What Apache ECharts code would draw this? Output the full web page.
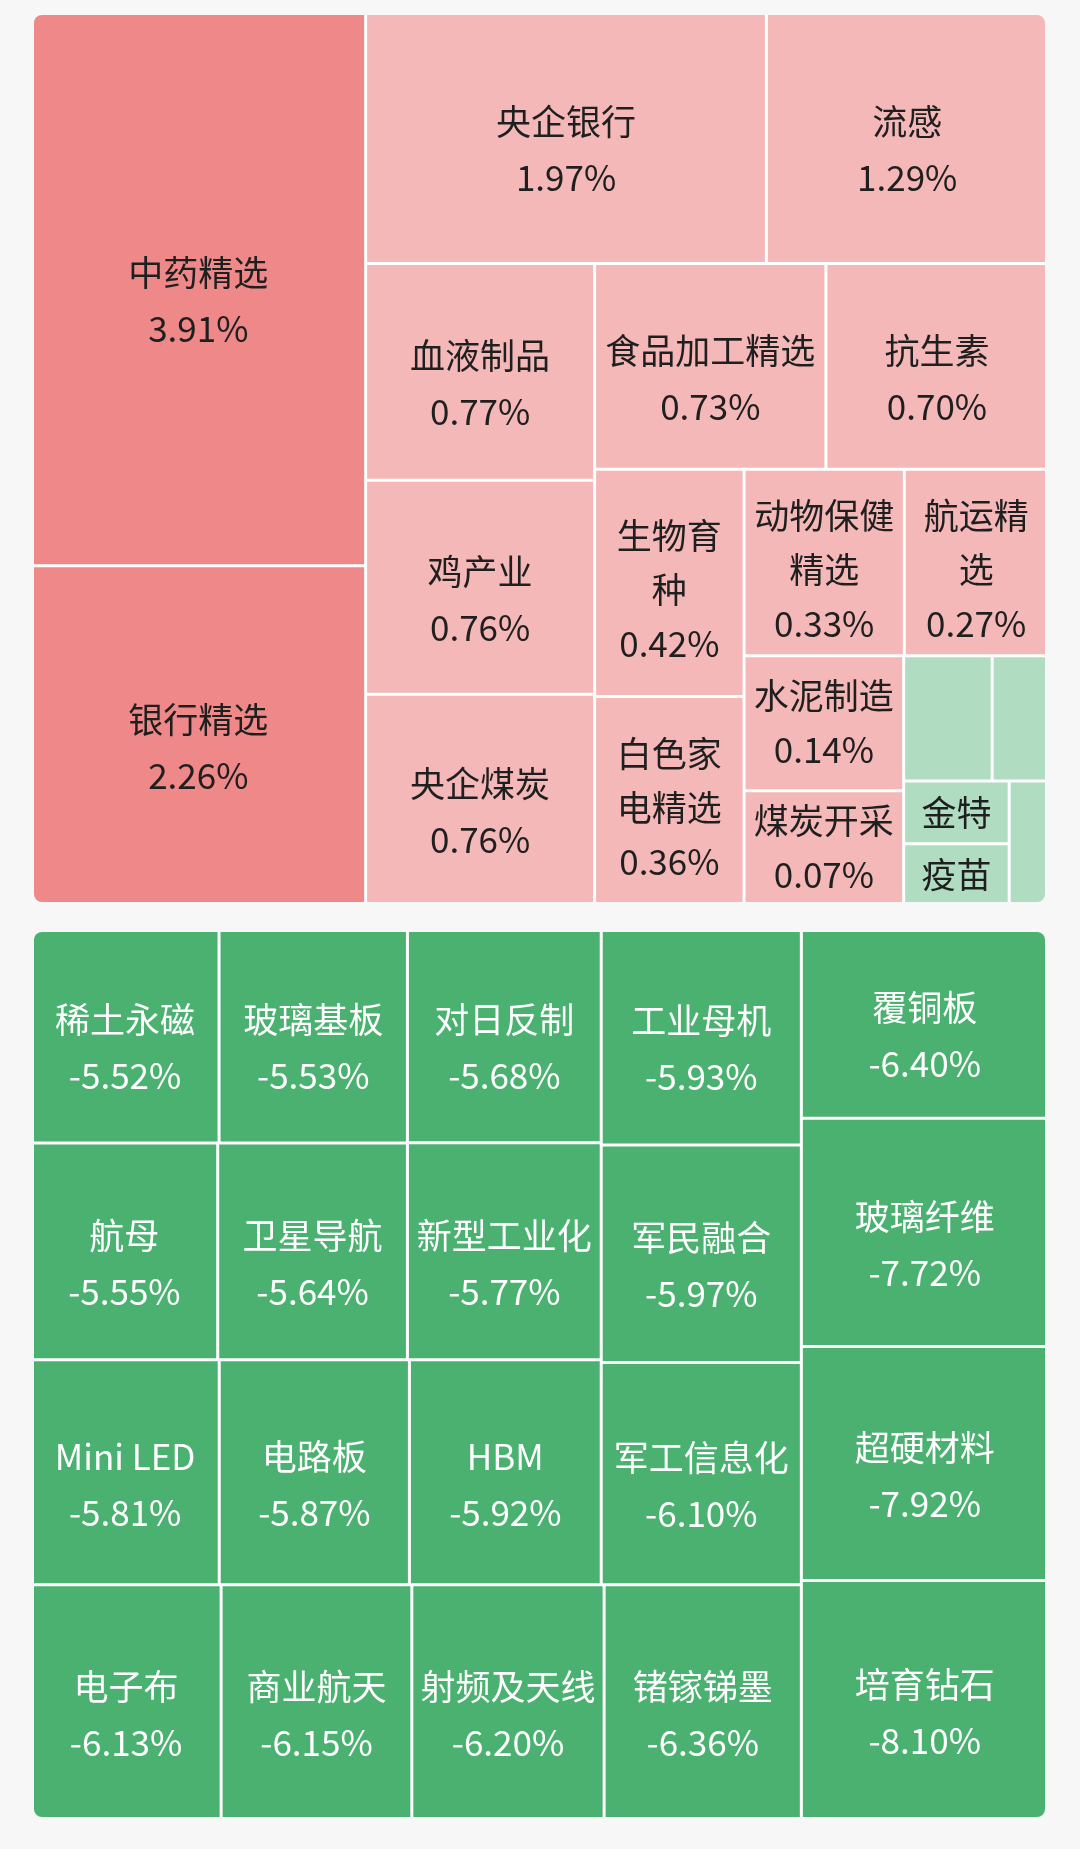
<!DOCTYPE html>
<html>
<head>
<meta charset="utf-8">
<script src="https://cdn.jsdelivr.net/npm/echarts@6/dist/echarts.min.js"></script>
<style>
  html, body { margin: 0; padding: 0; background: #f7f7f7; }
  body { width: 1080px; height: 1849px; position: relative; overflow: hidden; }
  .box { position: absolute; left: 34px; width: 1011px; border-radius: 8px; overflow: hidden; }
  #up { top: 15px; height: 887px; }
  /* 跌幅图按面积从右下角排起，整块转 180 度，文字再转回来 */
  #down { top: 932px; height: 885px; transform: rotate(180deg); }
</style>
</head>
<body>
<div id="up" class="box"></div>
<div id="down" class="box"></div>
<script>
// 涨幅板块（面积从大到小）
var upNames = ['中药精选', '银行精选', '央企银行', '流感', '血液制品', '鸡产业', '央企煤炭', '食品加工精选', '抗生素',
  '生物育种', '白色家电精选', '动物保健精选', '航运精选', '水泥制造', '煤炭开采', '', '', '金特', '疫苗', ''];
var upChange = [3.91, 2.26, 1.97, 1.29, 0.77, 0.76, 0.76, 0.73, 0.70,
  0.42, 0.36, 0.33, 0.27, 0.14, 0.07, -0.09, -0.18, -0.19, -0.20, -0.23];
var upSize = [204, 125, 111, 78, 54.6, 54.0, 53.1, 52.4, 50.3,
  37.4, 34.3, 32.9, 29.5, 23.7, 20.1, 12.2, 7.7, 7.3, 7.1, 5.3];

// 跌幅板块（面积从大到小）
var downNames = ['培育钻石', '超硬材料', '玻璃纤维', '覆铜板', '锗镓锑墨', '射频及天线', '商业航天', '电子布', '军工信息化', '军民融合',
  '工业母机', 'HBM', '电路板', 'Mini LED', '新型工业化', '对日反制', '卫星导航', '航母', '玻璃基板', '稀土永磁'];
var downChange = [-8.10, -7.92, -7.72, -6.40, -6.36, -6.20, -6.15, -6.13, -6.10, -5.97,
  -5.93, -5.92, -5.87, -5.81, -5.77, -5.68, -5.64, -5.55, -5.53, -5.52];
var downSize = [8.10, 7.92, 7.72, 6.40, 6.36, 6.20, 6.15, 6.13, 6.10, 5.97,
  5.93, 5.92, 5.87, 5.81, 5.77, 5.68, 5.64, 5.55, 5.53, 5.52];

function cellColor(v) {
  if (v >= 2) return '#ee8889';
  if (v > 0) return '#f5b8b9';
  if (v > -2) return '#b0dcc1';
  return '#4ab170';
}

// 大格子里文字略靠下、行距略大，小格子居中
function labelStyle(share) {
  if (share >= 0.04) return { offset: [0, 12], lineHeight: 56 };
  if (share >= 0.028) return { offset: [0, 7], lineHeight: 54 };
  return { offset: [0, 0], lineHeight: 54 };
}

function buildLeaves(names, change, size) {
  var total = size.reduce(function (a, b) { return a + b; }, 0);
  return names.map(function (n, i) {
    var ls = labelStyle(size[i] / total);
    return {
      name: n,
      value: size[i],
      change: change[i],
      itemStyle: { color: cellColor(change[i]) },
      label: {
        show: !!n,
        color: change[i] <= -2 ? '#ffffff' : '#1f1f1f',
        offset: ls.offset,
        lineHeight: ls.lineHeight
      }
    };
  });
}

function fmt(p) {
  if (!p.data || p.data.change == null) return '';
  return p.name + '\n' + p.data.change.toFixed(2) + '%';
}

function treemap(data, w, h, flip) {
  return {
    type: 'treemap',
    left: -1.5,
    top: -1.5,
    width: w + 3,
    height: h + 3,
    squareRatio: 1,
    sort: false,
    roam: false,
    nodeClick: false,
    breadcrumb: { show: false },
    itemStyle: { borderWidth: 0, gapWidth: 3, borderColor: '#ffffff' },
    label: {
      show: true,
      position: 'inside',
      fontSize: 35,
      lineHeight: 54,
      fontFamily: '"Noto Sans CJK SC", "Noto Sans", sans-serif',
      overflow: 'break',
      padding: [0, 5],
      rotate: flip ? 180 : 0,
      formatter: fmt
    },
    data: data
  };
}

var upLeaves = buildLeaves(upNames, upChange, upSize);
// 末尾几个小格分两组，保持原图的排布
var upData = upLeaves.slice(0, 15).concat([
  { name: '', children: upLeaves.slice(15, 17) },
  { name: '', children: upLeaves.slice(17) }
]);
var downData = buildLeaves(downNames, downChange, downSize);

var upChart = echarts.init(document.getElementById('up'));
upChart.setOption({ animation: false, series: [treemap(upData, 1011, 887, false)] });

var downChart = echarts.init(document.getElementById('down'));
downChart.setOption({ animation: false, series: [treemap(downData, 1011, 885, true)] });
</script>
</body>
</html>
